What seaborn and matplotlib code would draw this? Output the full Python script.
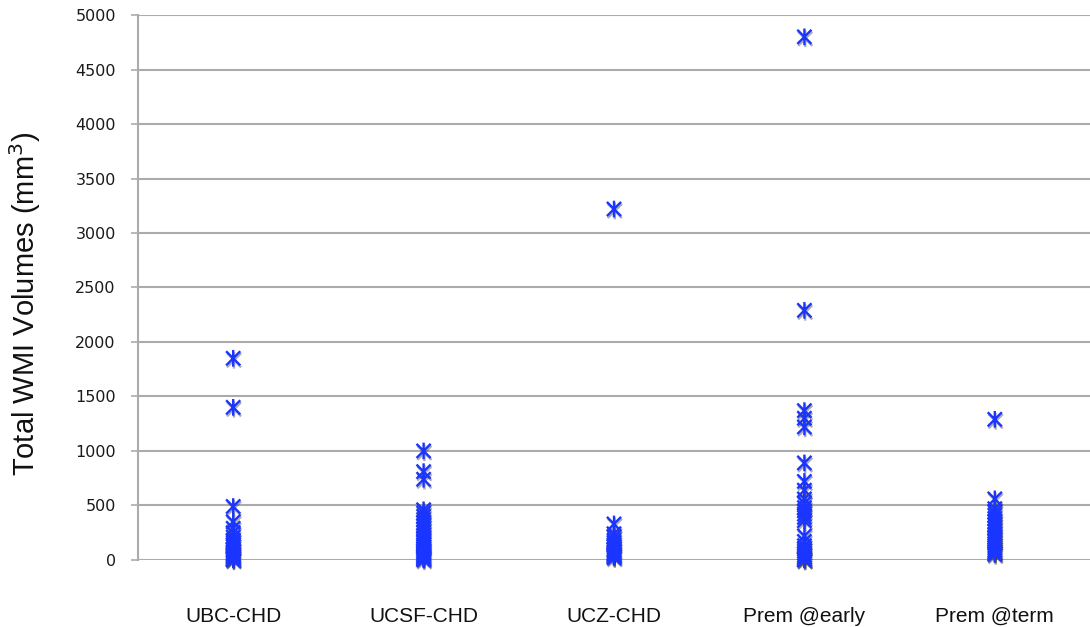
import numpy as np
import pandas as pd
import seaborn as sns
import matplotlib.pyplot as plt
import matplotlib.patheffects as pe
from matplotlib.path import Path

# values (mm^3)
groups = ["UBC-CHD", "UCSF-CHD", "UCZ-CHD", "Prem @early", "Prem @term"]
ubc_chd = [1850, 1400, 490, 350, 290, 250, 210, 180, 160, 140, 120, 100, 90,
           75, 60, 50, 40, 30, 20, 10, 5, 0]
ucsf_chd = [1000, 810, 740, 460, 430, 400, 370, 340, 310, 280, 250, 220, 200,
            180, 160, 140, 120, 100, 85, 70, 55, 40, 30, 20, 10, 0]
ucz_chd = [3220, 330, 240, 210, 180, 160, 140, 120, 100, 90, 75, 60, 50, 40,
           30, 20]
prem_early = [4800, 2290, 1370, 1300, 1220, 890, 720, 640, 560, 520, 480, 450,
              420, 390, 360, 220, 170, 130, 100, 80, 60, 40, 25, 10, 0, 0]
prem_term = [1290, 560, 470, 440, 410, 380, 350, 320, 290, 260, 230, 210, 190,
             170, 150, 130, 110, 90, 75, 60, 50]

values = [ubc_chd, ucsf_chd, ucz_chd, prem_early, prem_term]
df = pd.DataFrame({
    "group": np.repeat(groups, [len(v) for v in values]),
    "volume": np.concatenate(values),
})

sns.set_theme(style="white")
plt.rcParams["font.family"] = ["Liberation Sans", "DejaVu Sans"]

# asterisk marker: vertical bar plus an X
star = Path(
    [(0, -1), (0, 1), (-0.85, -0.85), (0.85, 0.85), (-0.85, 0.85), (0.85, -0.85)],
    [Path.MOVETO, Path.LINETO, Path.MOVETO, Path.LINETO, Path.MOVETO, Path.LINETO],
)

fig = plt.figure(figsize=(10.9, 6.27), dpi=100)
ax = fig.add_axes([0.1266, 0.107, 0.8734, 0.869])

sns.stripplot(
    data=df, x="group", y="volume", order=groups, jitter=False,
    marker=star, size=12, color="#1a35ff", edgecolor="#1a35ff",
    linewidth=1.7, ax=ax, zorder=3,
)
for coll in ax.collections:
    coll.set_clip_on(False)
    coll.set_facecolor("none")
    coll.set_edgecolor("#1a35ff")
    coll.set_path_effects([
        pe.SimpleLineShadow(offset=(0.6, -1.4), shadow_color="k", alpha=0.35),
        pe.Normal(),
    ])

ax.set_xlim(-0.5, 4.5)
ax.set_ylim(0, 5000)
ax.set_yticks(range(0, 5001, 500))
ax.yaxis.grid(True, color="#ababab", linewidth=1.5)
ax.set_axisbelow(True)
for side in ["top", "right", "bottom"]:
    ax.spines[side].set_visible(False)
ax.spines["left"].set_color("#ababab")
ax.spines["left"].set_linewidth(1.5)

ax.tick_params(axis="y", left=True, length=5, width=1.2, color="#ababab",
               pad=11, labelsize=11.5, labelcolor="#1a1a1a")
for lab in ax.get_yticklabels():
    lab.set_family("DejaVu Sans")
ax.tick_params(axis="x", bottom=False, pad=28, labelsize=15, labelcolor="#111111")

ax.set_xlabel("")
ax.set_ylabel("Total WMI Volumes (mm$^3$)", fontsize=21, labelpad=18,
              color="#111111")
ax.yaxis.set_label_coords(-0.1, 0.47)

fig.savefig("out.png", dpi=100)
